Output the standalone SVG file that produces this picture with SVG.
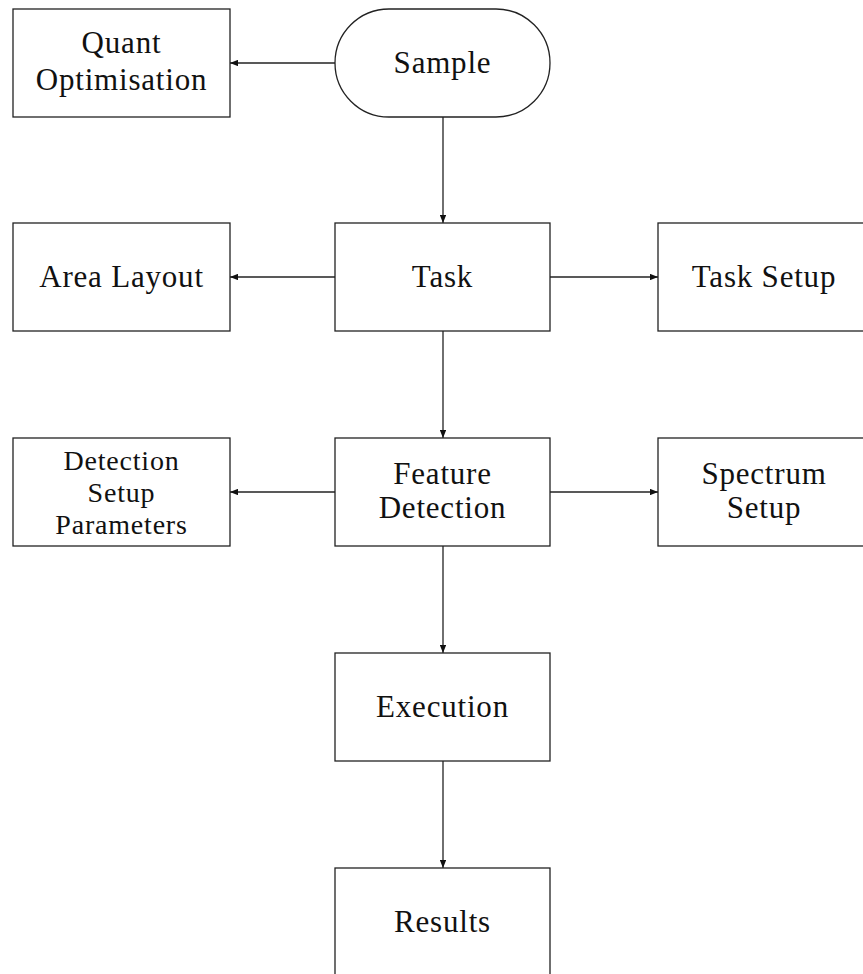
<svg xmlns="http://www.w3.org/2000/svg" width="863" height="974" viewBox="0 0 863 974">
<style>
.box{fill:#fff;stroke:#222;stroke-width:1.3}
.t{font-family:"Liberation Serif","DejaVu Serif",serif;font-size:31px;letter-spacing:0.8px;fill:#111;text-anchor:middle}
.s{font-size:28px;letter-spacing:0.8px}
.c{stroke:#222;stroke-width:1.3;fill:none;marker-end:url(#ah)}
</style>
<defs>
<marker id="ah" viewBox="0 0 10 8" refX="10" refY="4" markerWidth="8" markerHeight="6.4" markerUnits="userSpaceOnUse" orient="auto">
<path d="M0,0 L10,4 L0,8 z" fill="#111"/>
</marker>
</defs>
<rect width="863" height="974" fill="#fff"/>
<g id="connectors">
<line class="c" x1="335" y1="63" x2="230" y2="63"/>
<line class="c" x1="443" y1="117" x2="443" y2="223"/>
<line class="c" x1="335" y1="277" x2="230" y2="277"/>
<line class="c" x1="550" y1="277" x2="658" y2="277"/>
<line class="c" x1="443" y1="331" x2="443" y2="438"/>
<line class="c" x1="335" y1="492" x2="230" y2="492"/>
<line class="c" x1="550" y1="492" x2="658" y2="492"/>
<line class="c" x1="443" y1="546" x2="443" y2="653"/>
<line class="c" x1="443" y1="761" x2="443" y2="868"/>
</g>
<g id="quant"><rect class="box" x="13" y="9" width="217" height="108"/><text class="t" x="121.5" y="53">Quant</text><text class="t" x="121.5" y="90">Optimisation</text></g>
<g id="sample"><rect class="box" x="335" y="9" width="215" height="108" rx="54" ry="54"/><text class="t" x="442.5" y="73">Sample</text></g>
<g id="area"><rect class="box" x="13" y="223" width="217" height="108"/><text class="t" x="121.5" y="287">Area Layout</text></g>
<g id="task"><rect class="box" x="335" y="223" width="215" height="108"/><text class="t" x="442.5" y="287">Task</text></g>
<g id="tasksetup"><rect class="box" x="658" y="223" width="217" height="108"/><text class="t" x="764" y="287">Task Setup</text></g>
<g id="detection"><rect class="box" x="13" y="438" width="217" height="108"/><text class="t s" x="121.5" y="470">Detection</text><text class="t s" x="121.5" y="502">Setup</text><text class="t s" x="121.5" y="534">Parameters</text></g>
<g id="feature"><rect class="box" x="335" y="438" width="215" height="108"/><text class="t" x="442.5" y="484">Feature</text><text class="t" x="442.5" y="518">Detection</text></g>
<g id="spectrum"><rect class="box" x="658" y="438" width="217" height="108"/><text class="t" x="764" y="484">Spectrum</text><text class="t" x="764" y="518">Setup</text></g>
<g id="execution"><rect class="box" x="335" y="653" width="215" height="108"/><text class="t" x="442.5" y="717">Execution</text></g>
<g id="results"><rect class="box" x="335" y="868" width="215" height="108"/><text class="t" x="442.5" y="932">Results</text></g>
</svg>
